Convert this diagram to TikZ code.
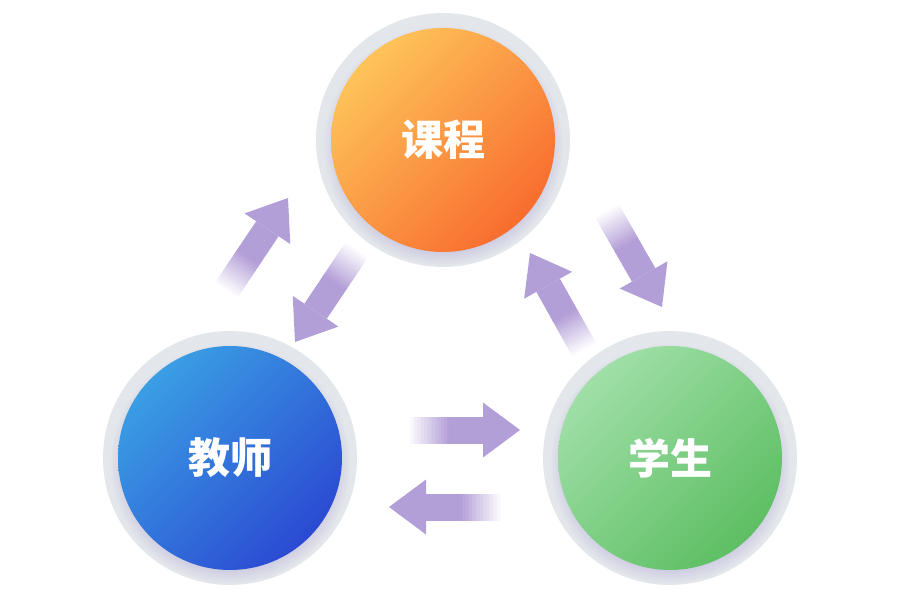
\documentclass[tikz,border=0pt]{standalone}
\usepackage{fontspec}
\newfontfamily\cjk{Noto Sans CJK SC}
\usetikzlibrary{calc,shadows,fadings,shadings}

\definecolor{ringgray}{HTML}{E3E6EB}
\definecolor{ringshade}{HTML}{BEB9DB}
\definecolor{arrowpurple}{HTML}{B39FD7}
\definecolor{orangeA}{HTML}{FFD663}
\definecolor{orangeB}{HTML}{F75A25}
\definecolor{blueA}{HTML}{3DB0E8}
\definecolor{blueB}{HTML}{2838CE}
\definecolor{greenA}{HTML}{AEE6B6}
\definecolor{greenB}{HTML}{4FB854}

\tikzset{
  bubble/.style={circle, minimum size=224pt, inner sep=0pt, text=white,
    font=\cjk\bfseries\fontsize{42}{42}\selectfont,
    preaction={draw=ringgray, line width=30pt},
    circular drop shadow={shadow xshift=0pt, shadow yshift=-5pt,
      shadow scale=1.07, fill=ringshade, opacity=0.7},
    shade},
  bubblecolors/.style 2 args={upper left=#1, lower right=#2,
    upper right=#1!50!#2, lower left=#1!50!#2},
  arrowbody/.style={line width=27pt},
}

%% block arrow whose tail fades into the white background
\newcommand{\flowarrow}[2]{%
  \foreach \k in {0,...,15}{%
    \pgfmathtruncatemacro{\pct}{min(100,7*\k)}%
    \draw[arrowbody, arrowpurple!\pct!white] ($(#1)!{\k/40}!(#2)$) -- ($(#1)!{(\k+1.5)/40}!(#2)$);
  }
  \draw[arrowbody, arrowpurple] ($(#1)!0.4!(#2)$) -- ($(#2)!37pt!(#1)$);
  \fill[arrowpurple] (#2) -- ($(#2)!37pt!(#1)!27.5pt!90:(#1)$)
    -- ($(#2)!37pt!(#1)!27.5pt!-90:(#1)$) -- cycle;
}

\begin{document}
\begin{tikzpicture}[x=1pt, y=1pt]
  \useasboundingbox (0,0) rectangle (900,614);

  \node[bubble, bubblecolors={orangeA}{orangeB}] (kecheng) at (443,474) {课程};
  \node[bubble, bubblecolors={blueA}{blueB}] (jiaoshi) at (230,156) {教师};
  \node[bubble, bubblecolors={greenA}{greenB}] (xuesheng) at (670,156) {学生};

  %% arrow ends, placed from the circle centres
  \coordinate (js2xs-tail) at ($(jiaoshi)+(177,28)$);
  \coordinate (js2xs-tip) at ($(js2xs-tail)+(113,0)$);
  \coordinate (xs2js-tail) at ($(xuesheng)+(-167,-49)$);
  \coordinate (xs2js-tip) at ($(xs2js-tail)+(-114,0)$);
  \coordinate (kc2js-tip) at ($(kecheng)+(-148,-202)$);
  \coordinate (kc2js-tail) at ($(kc2js-tip)+(56.2:113pt)$);
  \coordinate (js2kc-tip) at ($(jiaoshi)+(58,260)$);
  \coordinate (js2kc-tail) at ($(js2kc-tip)+(236.2:113pt)$);
  \coordinate (xs2kc-tip) at ($(xuesheng)+(-140,205)$);
  \coordinate (xs2kc-tail) at ($(xs2kc-tip)+(-60.7:113pt)$);
  \coordinate (kc2xs-tip) at ($(kecheng)+(219,-167)$);
  \coordinate (kc2xs-tail) at ($(kc2xs-tip)+(119.8:113pt)$);

  \flowarrow{js2xs-tail}{js2xs-tip}
  \flowarrow{xs2js-tail}{xs2js-tip}
  \flowarrow{kc2js-tail}{kc2js-tip}
  \flowarrow{js2kc-tail}{js2kc-tip}
  \flowarrow{xs2kc-tail}{xs2kc-tip}
  \flowarrow{kc2xs-tail}{kc2xs-tip}
\end{tikzpicture}
\end{document}
